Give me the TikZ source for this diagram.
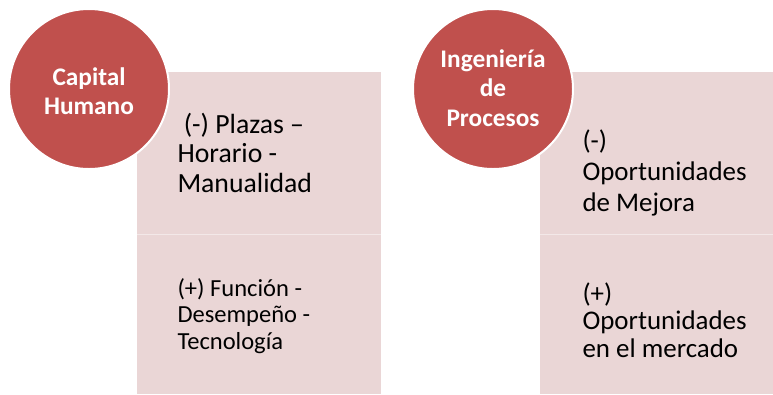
\documentclass[tikz,border=0pt]{standalone}
\usepackage{fontspec}
\setmainfont{Carlito}
\definecolor{circred}{RGB}{192,80,77}
\definecolor{boxpink}{RGB}{234,214,214}
\tikzset{every picture/.style={line width=0.75pt}}
\tikzset{
  circtext/.style={anchor=center, inner sep=0pt, align=center, text=white, font=\fontsize{19}{22}\selectfont\bfseries},
  boxtext/.style={anchor=base west, inner sep=0pt, align=left}
}

\begin{document}
\begin{tikzpicture}[x=0.75pt,y=0.75pt,yscale=-1,xscale=1]
%set diagram: 773 x 394
\useasboundingbox (0,0) rectangle (773,394);

%Shape: Rectangle [id:dp_capital_top] 
\draw [draw=none, fill=boxpink] (137,72) -- (381,72) -- (381,234) -- (137,234) -- cycle ;
%Shape: Rectangle [id:dp_capital_bottom] 
\draw [draw=none, fill=boxpink] (137,234) -- (381,234) -- (381,394) -- (137,394) -- cycle ;
%Straight Lines [id:da_capital_split] 
\draw [color=white, draw opacity=0.45]   (137,234) -- (381,234) ;

%Shape: Rectangle [id:dp_procesos_top] 
\draw [draw=none, fill=boxpink] (540,72) -- (773,72) -- (773,234) -- (540,234) -- cycle ;
%Shape: Rectangle [id:dp_procesos_bottom] 
\draw [draw=none, fill=boxpink] (540,234) -- (773,234) -- (773,394) -- (540,394) -- cycle ;
%Straight Lines [id:da_procesos_split] 
\draw [color=white, draw opacity=0.45]   (540,234) -- (773,234) ;

%Shape: Circle [id:dp_capital] 
\draw [color=white, fill=circred, line width=1.5] (89,89) circle (80) ;
%Shape: Circle [id:dp_procesos] 
\draw [color=white, fill=circred, line width=1.5] (493,89) circle (80) ;

% Text Node
\draw (89,91) node [circtext] (capital) {Capital\\Humano};
% Text Node
\draw (493,88) node [circtext] (procesos) {Ingeniería\\de\\Procesos};

% Text Node
\draw (177,192) node [boxtext, font=\fontsize{20.8}{22}\selectfont] (plazas) {\ (-) Plazas –\\Horario -\\Manualidad};
% Text Node
\draw (177,349) node [boxtext, font=\fontsize{18.4}{19.8}\selectfont] (funcion) {(+) Función -\\Desempeño -\\Tecnología};
% Text Node
\draw (582,211) node [boxtext, font=\fontsize{20.2}{22.9}\selectfont] (mejora) {(-)\\Oportunidades\\de Mejora};
% Text Node
\draw (582,357) node [boxtext, font=\fontsize{20.2}{20.6}\selectfont] (mercado) {(+)\\Oportunidades\\en el mercado};
\end{tikzpicture}
\end{document}
